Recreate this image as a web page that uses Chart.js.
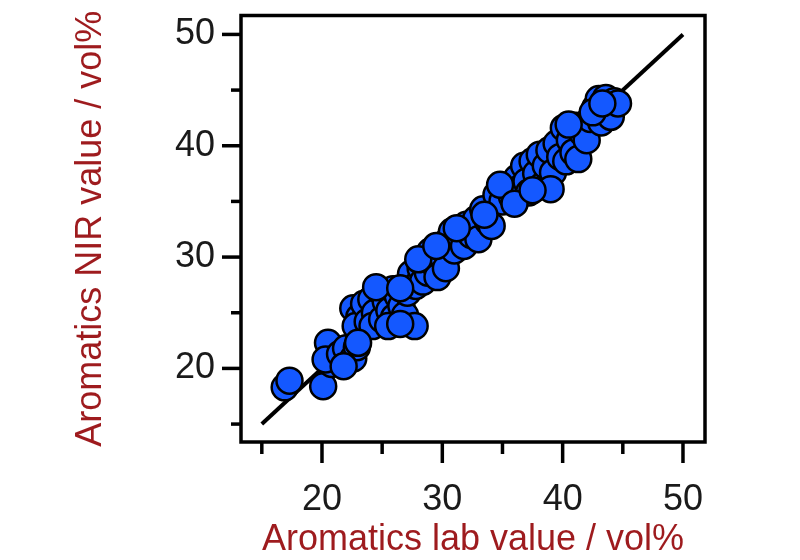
<!DOCTYPE html>
<html>
<head>
<meta charset="utf-8">
<script src="https://cdn.jsdelivr.net/npm/chart.js@4/dist/chart.umd.min.js"></script>
<style>
html,body{margin:0;padding:0;background:#fff;}
canvas{display:block;}
</style>
</head>
<body>
<canvas id="c" width="800" height="560"></canvas>
<script>
// Lab (x) and NIR (y) aromatics values, vol%
const labValues = [16.9,17.3,20.1,20.5,20.8,20.3,21.5,22.0,22.6,22.9,23.1,22.6,23.1,22.8,23.5,23.8,24.1,24.4,24.8,24.2,25.0,25.3,25.6,25.9,26.0,26.3,26.6,26.9,27.1,27.7,27.4,27.8,28.2,28.4,28.8,29.0,29.3,29.6,30.0,30.3,30.5,30.8,31.0,31.4,31.8,32.0,32.4,32.8,33.0,33.4,33.8,34.1,34.5,35.0,35.4,35.8,36.2,36.5,36.8,37.0,37.2,37.5,37.8,38.1,38.3,38.6,38.9,39.2,39.0,39.5,39.8,40.1,40.3,40.6,40.9,41.1,41.3,41.6,42.0,42.3,42.7,43.0,43.2,43.6,44.0,44.3,44.6,24.5,26.5,28.0,29.5,31.2,33.5,34.8,36.0,37.5,40.5,42.5,43.3,21.8,23.0,25.5,26.5];
const nirValues = [18.3,18.9,18.4,22.3,20.4,20.8,21.3,21.8,20.9,21.9,23.1,25.4,24.6,23.8,25.8,24.2,26.2,25.0,27.0,23.8,24.4,26.0,25.2,27.1,24.6,26.5,25.6,24.8,26.8,23.8,28.5,27.4,29.0,27.8,28.6,30.5,29.4,28.2,30.1,29.0,31.5,32.3,30.6,31.8,31.0,32.9,32.0,33.4,31.6,34.3,33.2,32.8,35.6,35.0,36.2,35.4,37.1,36.2,38.2,36.8,35.8,38.6,37.5,39.2,36.4,38.2,39.6,37.6,36.1,40.2,39.0,41.6,38.6,40.5,39.4,41.8,38.8,41.2,40.5,42.4,43.4,44.2,42.1,44.3,42.6,44.0,43.8,27.3,27.2,29.8,31.0,32.6,33.8,36.5,34.8,36.0,41.9,43.0,43.8,20.2,22.3,23.8,24.0];
// 1:1 reference line
const lineX = [15, 50];
const lineY = [15, 50];
// Axis ticks
const tickValues = [15, 20, 25, 30, 35, 40, 45, 50];
const tickLabels = [20, 30, 40, 50];
const xTitle = 'Aromatics lab value / vol%';
const yTitle = 'Aromatics NIR value / vol%';

const FONT = "'Liberation Sans', Arial, sans-serif";
const TITLE_COLOR = '#9e1b1e';

const framePlugin = {
  id: 'frame',
  afterDraw(chart) {
    const {ctx, chartArea: a, scales} = chart;
    ctx.save();
    ctx.strokeStyle = '#000';
    ctx.lineWidth = 3.5;
    ctx.strokeRect(a.left, a.top, a.right - a.left, a.bottom - a.top);
    ctx.lineCap = 'butt';
    scales.x.ticks.forEach(t => {
      const px = scales.x.getPixelForValue(t.value);
      const len = tickLabels.includes(t.value) ? 21 : 12;
      ctx.beginPath();
      ctx.moveTo(px, a.bottom);
      ctx.lineTo(px, a.bottom + len);
      ctx.stroke();
    });
    scales.y.ticks.forEach(t => {
      const py = scales.y.getPixelForValue(t.value);
      const len = tickLabels.includes(t.value) ? 19 : 10;
      ctx.beginPath();
      ctx.moveTo(a.left, py);
      ctx.lineTo(a.left - len, py);
      ctx.stroke();
    });
    ctx.restore();
  }
};

new Chart(document.getElementById('c'), {
  type: 'scatter',
  data: {
    datasets: [
      {
        type: 'line',
        data: lineX.map((x, i) => ({x, y: lineY[i]})),
        borderColor: '#000',
        borderWidth: 4,
        pointRadius: 0,
        fill: false,
        order: 2
      },
      {
        data: labValues.map((x, i) => ({x, y: nirValues[i]})),
        backgroundColor: '#1458ff',
        borderColor: '#000',
        borderWidth: 2.5,
        pointRadius: 13,
        pointHoverRadius: 13,
        order: 1
      }
    ]
  },
  options: {
    responsive: false,
    animation: false,
    devicePixelRatio: 1,
    layout: {padding: {top: 13, right: 95, left: 0, bottom: 0}},
    plugins: {legend: {display: false}, tooltip: {enabled: false}},
    scales: {
      x: {
        type: 'linear',
        min: 13.27,
        max: 51.83,
        afterBuildTicks: s => { s.ticks = tickValues.map(v => ({value: v})); },
        afterFit: s => { s.height = 118; s.paddingLeft = 0; s.paddingRight = 0; },
        grid: {display: false, drawTicks: false},
        border: {display: false},
        ticks: {
          padding: 36,
          color: '#1a1a1a',
          font: {family: FONT, size: 36},
          maxRotation: 0,
          callback: v => tickLabels.includes(v) ? String(v) : ''
        },
        title: {
          display: true,
          text: xTitle,
          color: TITLE_COLOR,
          font: {family: FONT, size: 36},
          padding: {top: 0, bottom: -2}
        }
      },
      y: {
        type: 'linear',
        min: 13.39,
        max: 51.70,
        afterBuildTicks: s => { s.ticks = tickValues.map(v => ({value: v})); },
        afterFit: s => { s.width = 241; s.paddingTop = 0; s.paddingBottom = 0; },
        grid: {display: false, drawTicks: false},
        border: {display: false},
        ticks: {
          padding: 26,
          color: '#1a1a1a',
          font: {family: FONT, size: 36},
          callback: v => tickLabels.includes(v) ? String(v) : ''
        },
        title: {
          display: true,
          text: yTitle,
          color: TITLE_COLOR,
          font: {family: FONT, size: 36},
          padding: {top: 69, bottom: 0}
        }
      }
    }
  },
  plugins: [framePlugin]
});
</script>
</body>
</html>
